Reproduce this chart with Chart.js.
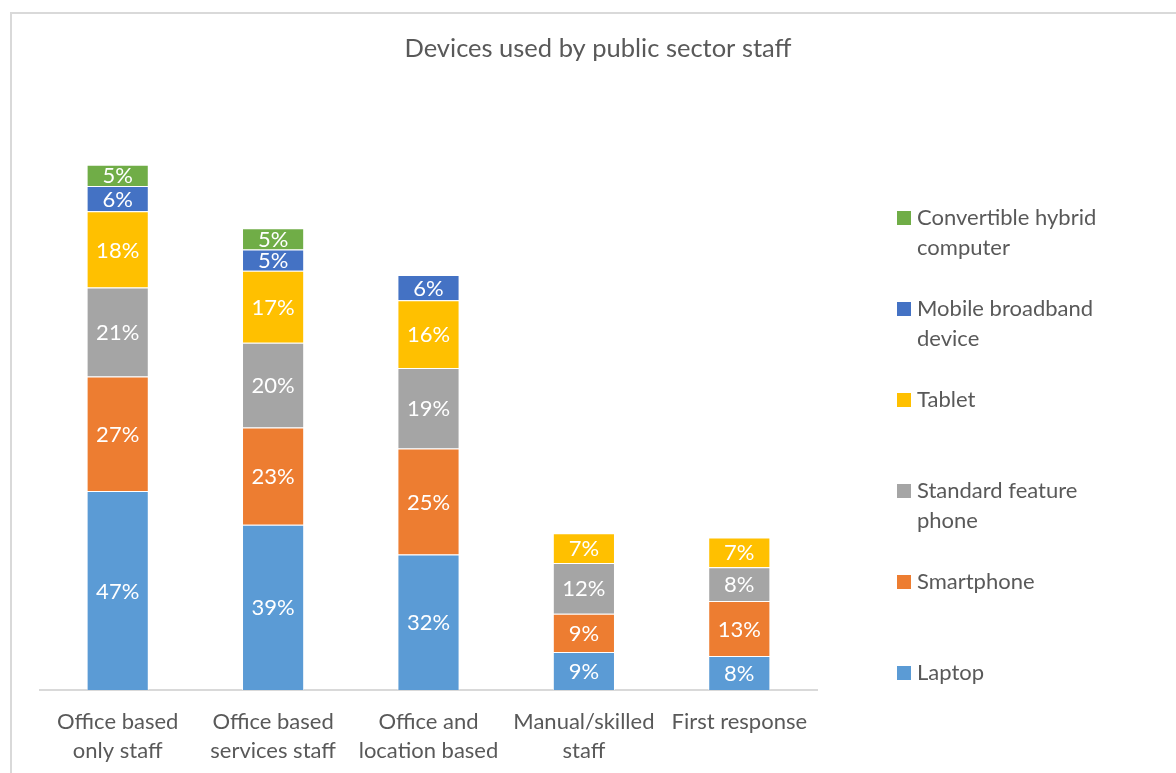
<!DOCTYPE html>
<html>
<head>
<meta charset="utf-8">
<title>Devices used by public sector staff</title>
<script src="https://cdn.jsdelivr.net/npm/chart.js@4.4.1/dist/chart.umd.min.js"></script>
<style>
  html, body { margin: 0; padding: 0; background: #fff; }
  #wrap { width: 1176px; height: 773px; position: relative; }
</style>
</head>
<body>
<div id="wrap"><canvas id="devices"></canvas></div>
<script>
const chartTitle = 'Devices used by public sector staff';

const categories = [
  ['Office based', 'only staff'],
  ['Office based', 'services staff'],
  ['Office and', 'location based'],
  ['Manual/skilled', 'staff'],
  ['First response']
];

// percentages per staff group, bottom of the stack first
const laptop       = [47, 39, 32, 9, 8];
const smartphone   = [27, 23, 25, 9, 13];
const featurePhone = [21, 20, 19, 12, 8];
const tablet       = [18, 17, 16, 7, 7];
const broadband    = [6, 5, 6, null, null];
const convertible  = [5, 5, null, null, null];

const seriesNames = ['Laptop', 'Smartphone', 'Standard feature phone', 'Tablet', 'Mobile broadband device', 'Convertible hybrid computer'];
const seriesColors = ['#5B9BD5', '#ED7D31', '#A5A5A5', '#FFC000', '#4472C4', '#70AD47'];
const seriesValues = [laptop, smartphone, featurePhone, tablet, broadband, convertible];

const FONT = 'Lato, "Open Sans", sans-serif';
const TEXT = '#595959';

// outer frame + title, centred on the whole canvas
const framePlugin = {
  id: 'frame',
  beforeDraw(chart) {
    const c = chart.ctx;
    c.save();
    c.strokeStyle = '#d9d9d9';
    c.lineWidth = 2;
    c.strokeRect(11, 13, 1300, 900);
    c.fillStyle = TEXT;
    c.font = '25.5px ' + FONT;
    c.textAlign = 'center';
    c.textBaseline = 'middle';
    c.fillText(chartTitle, 598, 49);
    c.restore();
  }
};

// percentage text inside each segment
const valueLabels = {
  id: 'valueLabels',
  afterDatasetsDraw(chart) {
    const c = chart.ctx;
    c.save();
    c.fillStyle = '#fff';
    c.font = '22px ' + FONT;
    c.textAlign = 'center';
    c.textBaseline = 'middle';
    chart.data.datasets.forEach((ds, i) => {
      chart.getDatasetMeta(i).data.forEach((bar, j) => {
        const v = ds.data[j];
        if (v == null) return;
        c.fillText(v + '%', bar.x, (bar.y + bar.base) / 2 + 1);
      });
    });
    c.restore();
  }
};

// legend on the right, top item = last series, labels wrapped
const sideLegend = {
  id: 'sideLegend',
  afterDraw(chart) {
    const c = chart.ctx;
    const x = 897, maxW = 210, lineH = 30, step = 91;
    let y = 218;
    c.save();
    c.font = '22px ' + FONT;
    c.textBaseline = 'middle';
    const sets = chart.data.datasets.slice().reverse();
    sets.forEach(ds => {
      c.fillStyle = ds.backgroundColor;
      c.fillRect(x, y - 7, 14, 14);
      const words = ds.label.split(' ');
      const lines = [];
      let cur = '';
      words.forEach(w => {
        const t = cur ? cur + ' ' + w : w;
        if (c.measureText(t).width > maxW && cur) { lines.push(cur); cur = w; }
        else cur = t;
      });
      lines.push(cur);
      c.fillStyle = TEXT;
      lines.forEach((l, k) => c.fillText(l, x + 20, y + k * lineH));
      y += step;
    });
    c.restore();
  }
};

new Chart(document.getElementById('devices'), {
  type: 'bar',
  data: {
    labels: categories,
    datasets: seriesNames.map((name, i) => ({
      label: name,
      data: seriesValues[i],
      backgroundColor: seriesColors[i],
      borderColor: 'rgba(255,255,255,0.7)',
      borderWidth: 1,
      barPercentage: 0.4,
      categoryPercentage: 1
    }))
  },
  options: {
    responsive: true,
    maintainAspectRatio: false,
    animation: false,
    layout: { padding: { left: 40, right: 359, top: 97, bottom: 8 } },
    scales: {
      x: {
        stacked: true,
        grid: { display: false, drawTicks: false },
        border: { color: '#d9d9d9', width: 2 },
        ticks: { color: TEXT, font: { family: FONT, size: 22, lineHeight: 1.32 }, padding: 17, maxRotation: 0, autoSkip: false },
        afterFit(scale) { scale.height = 75; }
      },
      y: {
        stacked: true,
        display: false,
        min: 0,
        max: 140
      }
    },
    plugins: {
      legend: { display: false },
      tooltip: { enabled: false },
      title: { display: false }
    }
  },
  plugins: [framePlugin, valueLabels, sideLegend]
});
</script>
</body>
</html>
